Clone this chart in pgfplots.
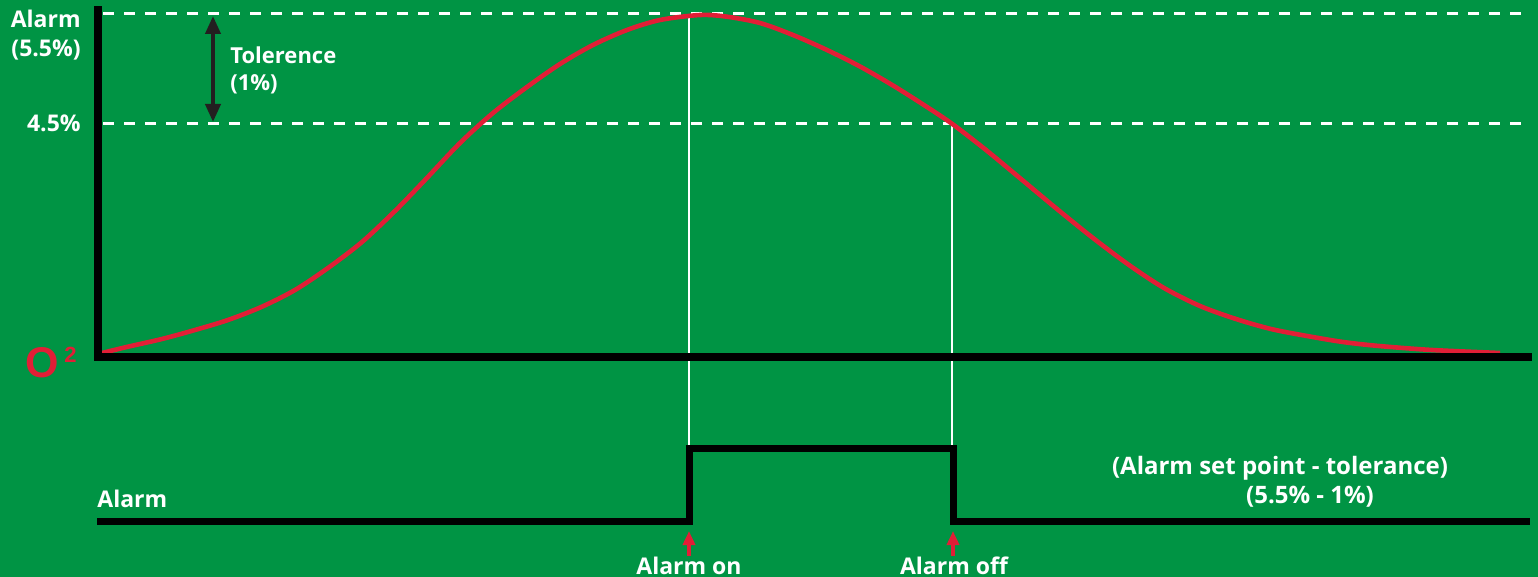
\documentclass[border=0pt]{standalone}
\usepackage{pgfplots}
\pgfplotsset{compat=1.18}
\usepackage{fontspec}
\setmainfont{Open Sans}
\newfontfamily\osym{Liberation Sans}
\usetikzlibrary{arrows.meta}
\definecolor{bg}{RGB}{0,148,68}
\definecolor{rd}{RGB}{226,30,54}
\definecolor{dk}{RGB}{35,31,32}
\tikzset{lbl/.style={inner sep=0pt, text=white, font=\fontsize{11.5}{14}\selectfont\bfseries}}
\begin{document}
\begin{tikzpicture}
\begin{axis}[
  scale only axis, width=769pt, height=288.5pt,
  xmin=0, xmax=1538, ymin=0, ymax=577, y dir=reverse,
  axis line style={draw=none}, ticks=none,
  axis background/.style={fill=bg},
  clip=false,
]
% dashed reference lines
\addplot[white, line width=1.5pt, dash pattern=on 5.5pt off 5pt] coordinates {(103,14) (1530,14)};
\addplot[white, line width=1.5pt, dash pattern=on 5.5pt off 5pt] coordinates {(103,124) (1530,124)};
% white vertical guides
\addplot[white, line width=1pt] coordinates {(689,15) (689,446)};
\addplot[white, line width=1pt] coordinates {(952,124) (952,446)};
% O2 curve
\addplot[rd, line width=2.3pt, smooth, tension=0.5] coordinates {
(102,353) (128,346.7) (162,339) (195,330) (228,320) (262,306.7) (295,290)
(328,268) (362,242) (395,211) (425,180) (460,143) (493,113) (527,87)
(560,64) (593,45) (627,30) (660,20) (700,15) (727,16.7) (760,23)
(793,35) (827,50) (860,66.5) (893,85.5) (927,107) (953,124.5) (986,150)
(1021,179) (1057,209) (1093,238) (1129,265) (1164,288) (1200,306)
(1236,319) (1271,329) (1307,336) (1343,342) (1379,346) (1432,350) (1500,353)};
% axes
\addplot[black, line width=4pt, line join=miter, line cap=rect] coordinates {(97.5,10) (97.5,357.5) (1528,357.5)};
% alarm step
\addplot[black, line width=3.5pt, line join=miter] coordinates {(97,521.5) (689.5,521.5) (689.5,448.5) (953,448.5) (953,521.5) (1530,521.5)};
% tolerance arrow
\addplot[dk, line width=2pt, {Triangle[length=9pt,width=7.5pt]}-{Triangle[length=9pt,width=7.5pt]}] coordinates {(213,16) (213,122)};
% red arrows
\addplot[rd, line width=2pt, -{Triangle[length=7pt,width=6pt]}] coordinates {(689,556) (689,531)};
\addplot[rd, line width=2pt, -{Triangle[length=7pt,width=6pt]}] coordinates {(953,556) (953,531)};
% texts
\node[lbl, anchor=base east] at (axis cs:81,28) {Alarm};
\node[lbl, anchor=base east] at (axis cs:81,57) {(5.5\%)};
\node[lbl, anchor=base east] at (axis cs:81,132) {4.5\%};
\node[lbl, anchor=base west, font=\fontsize{11}{14}\selectfont\bfseries] at (axis cs:230,64) {Tolerence};
\node[lbl, anchor=base west, font=\fontsize{11}{14}\selectfont\bfseries] at (axis cs:230,91) {(1\%)};
\node[lbl, anchor=base west, text=rd, font=\osym\fontsize{21.5}{24}\selectfont\bfseries] at (axis cs:25,378) {O};
\node[lbl, anchor=base west, text=rd, font=\osym\fontsize{11}{12}\selectfont\bfseries] at (axis cs:64,363) {2};
\node[lbl, anchor=base west] at (axis cs:97,508) {Alarm};
\node[lbl, anchor=base, font=\fontsize{12}{14}\selectfont\bfseries] at (axis cs:1280,474) {(Alarm set point - tolerance)};
\node[lbl, anchor=base, font=\fontsize{12}{14}\selectfont\bfseries] at (axis cs:1310,503) {(5.5\% - 1\%)};
\node[lbl, anchor=base] at (axis cs:689,574) {Alarm on};
\node[lbl, anchor=base] at (axis cs:954,574) {Alarm off};
\end{axis}
\pgfresetboundingbox
\path (current axis.south west) rectangle (current axis.north east);
\end{tikzpicture}
\end{document}
